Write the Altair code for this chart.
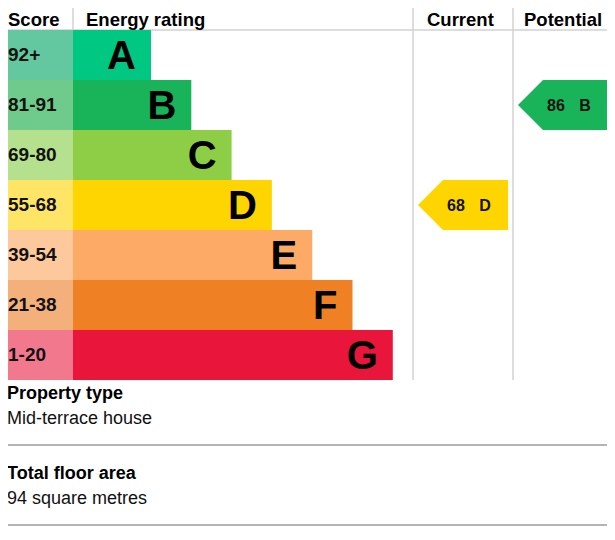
import altair as alt
import pandas as pd

# ---------------- data ----------------
bands = ["A", "B", "C", "D", "E", "F", "G"]
score_ranges = ["92+", "81-91", "69-80", "55-68", "39-54", "21-38", "1-20"]
band_min = [92, 81, 69, 55, 39, 21, 1]
rating_columns = ["Current", "Potential"]
rating_scores = [68, 86]
header_labels = ["Score", "Energy rating", "Current", "Potential"]
info_titles = ["Property type", "Total floor area"]
info_values = ["Mid-terrace house", "94 square metres"]

# ---------------- style ----------------
bar_colors = ["#00c781", "#19b459", "#8dce46", "#ffd500", "#fcaa65", "#ef8023", "#e9153b"]
score_colors = ["#63c7a0", "#6fcb8b", "#b5e08d", "#ffe566", "#fdc89b", "#f4b07a", "#f2788e"]
grid_color = "#d2d2d2"
sep_color = "#b4b4b4"
FONT = "Liberation Sans"

# ---------------- layout ----------------
W, H = 607, 530          # drawing area in reference pixels (left 8 px hidden by padding)
HEAD_H = 26
ROW_H = 50
SCORE_W = 73
BAR0 = 78
BAR_STEP = 40.3
COL_LEFT = {"Current": 413, "Potential": 513}
HEADER_X = [8, 86, 427, 524]
TABLE_BOTTOM = HEAD_H + ROW_H * len(bands)
INFO_TOP = 395
INFO_STEP = 80

# rows
rows = []
for i, b in enumerate(bands):
    top = HEAD_H + ROW_H * i
    rows.append(dict(
        band=b, rng=score_ranges[i], top=top, bottom=top + ROW_H, mid=top + ROW_H / 2,
        x0=0, xs=SCORE_W, xe=SCORE_W + BAR0 + BAR_STEP * i,
        bar_fill=bar_colors[i], score_fill=score_colors[i],
    ))
rows_df = pd.DataFrame(rows)
rows_df["letter_x"] = rows_df["xe"] - 15
rows_df["letter_y"] = rows_df["mid"] + 14
rows_df["score_x"] = 8
rows_df["score_y"] = rows_df["mid"] + 6


def band_index(score):
    for i, m in enumerate(band_min):
        if score >= m:
            return i
    return len(bands) - 1


# arrows
arrow_pts = []
arrow_txt = []
for col, sc in zip(rating_columns, rating_scores):
    k = band_index(sc)
    top = HEAD_H + ROW_H * k
    mid = top + ROW_H / 2
    tip = COL_LEFT[col] + 5
    right = COL_LEFT[col] + 95
    fill = bar_colors[k]
    arrow_pts += [
        dict(which=col, x=tip, y=mid, y2=mid, fill=fill),
        dict(which=col, x=tip + 25, y=top, y2=top + ROW_H, fill=fill),
        dict(which=col, x=right, y=top, y2=top + ROW_H, fill=fill),
    ]
    arrow_txt += [
        dict(x=tip + 38, y=mid + 6, text=str(sc)),
        dict(x=tip + 67, y=mid + 6, text=bands[k]),
    ]
arrow_df = pd.DataFrame(arrow_pts)
arrow_txt_df = pd.DataFrame(arrow_txt)

# lines
lines = [
    dict(x=0, x2=W, y=1, y2=1, c=grid_color, w=1.5),
    dict(x=0, x2=W, y=HEAD_H, y2=HEAD_H, c=grid_color, w=1.5),
    dict(x=SCORE_W, x2=SCORE_W, y=0, y2=HEAD_H, c=grid_color, w=1.5),
    dict(x=COL_LEFT["Current"], x2=COL_LEFT["Current"], y=0, y2=TABLE_BOTTOM, c=grid_color, w=1.5),
    dict(x=COL_LEFT["Potential"], x2=COL_LEFT["Potential"], y=0, y2=TABLE_BOTTOM, c=grid_color, w=1.5),
]
for j in range(len(info_titles)):
    ly = INFO_TOP + INFO_STEP * j + 46
    lines.append(dict(x=7, x2=W, y=ly, y2=ly, c=sep_color, w=2))
lines_df = pd.DataFrame(lines)

header_df = pd.DataFrame(dict(x=HEADER_X, y=[21.5] * 4, text=header_labels))
title_df = pd.DataFrame(dict(x=[7] * 2, y=[INFO_TOP + INFO_STEP * j for j in range(2)], text=info_titles))
value_df = pd.DataFrame(dict(x=[7] * 2, y=[INFO_TOP + 25 + INFO_STEP * j for j in range(2)], text=info_values))

xs = alt.Scale(domain=[0, W], range=[0, W], nice=False, zero=False)
ys = alt.Scale(domain=[0, H], range=[0, H], nice=False, zero=False)


def X(f):
    return alt.X(f, type="quantitative", scale=xs, axis=None)


def Y(f):
    return alt.Y(f, type="quantitative", scale=ys, axis=None)


line_layer = alt.Chart(lines_df).mark_rule().encode(
    x=X("x"), x2="x2", y=Y("y"), y2="y2",
    color=alt.Color("c:N", scale=None), strokeWidth=alt.StrokeWidth("w:Q", scale=None),
)

score_cells = alt.Chart(rows_df).mark_rect().encode(
    x=X("x0"), x2="xs", y=Y("top"), y2="bottom", color=alt.Color("score_fill:N", scale=None)
)
bars = alt.Chart(rows_df).mark_rect().encode(
    x=X("xs"), x2="xe", y=Y("top"), y2="bottom", color=alt.Color("bar_fill:N", scale=None)
)
letters = alt.Chart(rows_df).mark_text(
    align="right", baseline="alphabetic", font=FONT, fontSize=40, fontWeight="bold", color="#000"
).encode(x=X("letter_x"), y=Y("letter_y"), text="band:N")
score_txt = alt.Chart(rows_df).mark_text(
    align="left", baseline="alphabetic", font=FONT, fontSize=19, fontWeight="bold", color="#111"
).encode(x=X("score_x"), y=Y("score_y"), text="rng:N")

arrows = alt.Chart(arrow_df).mark_area(interpolate="linear", orient="vertical").encode(
    x=X("x"), y=Y("y"), y2="y2", detail="which:N", color=alt.Color("fill:N", scale=None)
)
arrow_labels = alt.Chart(arrow_txt_df).mark_text(
    align="center", baseline="alphabetic", font=FONT, fontSize=16, fontWeight="bold", color="#111"
).encode(x=X("x"), y=Y("y"), text="text:N")

headers = alt.Chart(header_df).mark_text(
    align="left", baseline="alphabetic", font=FONT, fontSize=18.5, fontWeight="bold", color="#000"
).encode(x=X("x"), y=Y("y"), text="text:N")
titles = alt.Chart(title_df).mark_text(
    align="left", baseline="alphabetic", font=FONT, fontSize=18, fontWeight="bold", color="#000"
).encode(x=X("x"), y=Y("y"), text="text:N")
values = alt.Chart(value_df).mark_text(
    align="left", baseline="alphabetic", font=FONT, fontSize=18, color="#111"
).encode(x=X("x"), y=Y("y"), text="text:N")

chart = alt.layer(
    line_layer, score_cells, bars, letters, score_txt, arrows, arrow_labels, headers, titles, values
).properties(
    width=W, height=H,
    padding={"left": -8, "top": -4, "right": 0, "bottom": 0},
    autosize=alt.AutoSizeParams(type="none"),
    background="white",
).configure_view(stroke=None)

chart.save("out.html", embed_options={"renderer": "svg", "actions": False})
